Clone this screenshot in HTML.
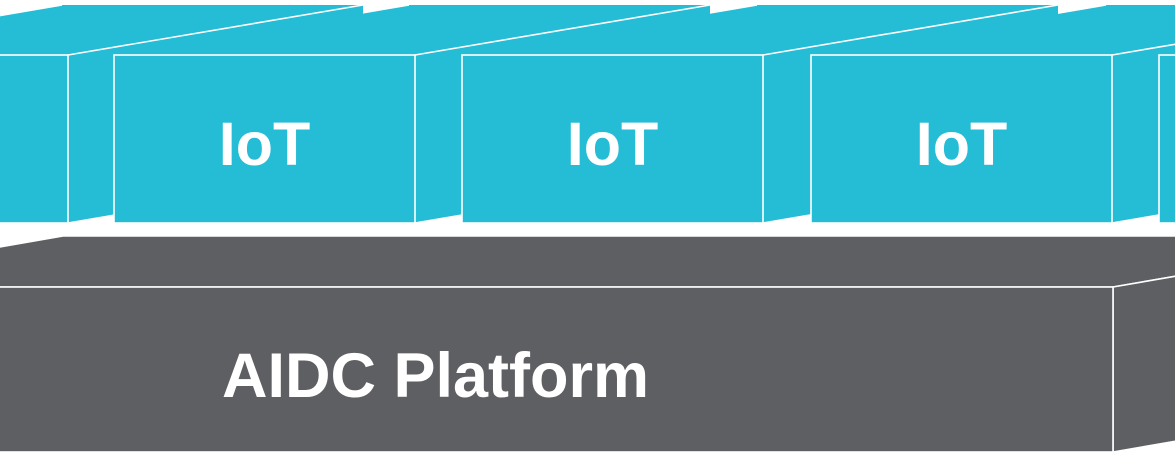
<!DOCTYPE html>
<html><head><style>html,body{margin:0;padding:0;background:#fff;overflow:hidden}</style></head>
<body>
<svg width="1175" height="460" viewBox="0 0 1175 460" xmlns="http://www.w3.org/2000/svg">
<defs>
<g id="bk">
<polygon points="0,55 295,5 596,5 301,55" fill="#25bcd5" stroke="none"/>
<polygon points="301,55 596,5 596,173 301,223" fill="#25bcd5" stroke="none"/>
<polyline points="0,55 295,5" fill="none"/>
<polyline points="301,55 596,5" fill="none"/>
<polyline points="301,223 596,173" fill="none"/>
</g>
</defs>
<g stroke="#fff" stroke-width="1.6" stroke-linejoin="miter">
<g fill="#5e5f63">
<polygon points="-232,287 63,236 1408,236 1113,287"/>
<polygon points="1113,287 1408,236 1408,401 1113,452"/>
<rect x="-232" y="287" width="1345" height="165"/>
</g>
<use href="#bk" x="1159"/>
<use href="#bk" x="811"/>
<use href="#bk" x="462"/>
<use href="#bk" x="114"/>
<use href="#bk" x="-233"/>
<g fill="#25bcd5">
<rect x="-233" y="55" width="301" height="168"/>
<rect x="114" y="55" width="301" height="168"/>
<rect x="462" y="55" width="301" height="168"/>
<rect x="811" y="55" width="301" height="168"/>
<rect x="1159" y="55" width="301" height="168"/>
</g>
</g>
<g fill="#fff" font-family="Liberation Sans, Arial, sans-serif" font-weight="bold" text-anchor="middle" font-size="61">
<text x="264.5" y="165">IoT</text>
<text x="612.5" y="165">IoT</text>
<text x="961.5" y="165">IoT</text>
</g>
<text x="222" y="397" fill="#fff" font-family="Liberation Sans, Arial, sans-serif" font-weight="bold" font-size="63">AIDC Platform</text>
</svg>
</body></html>
